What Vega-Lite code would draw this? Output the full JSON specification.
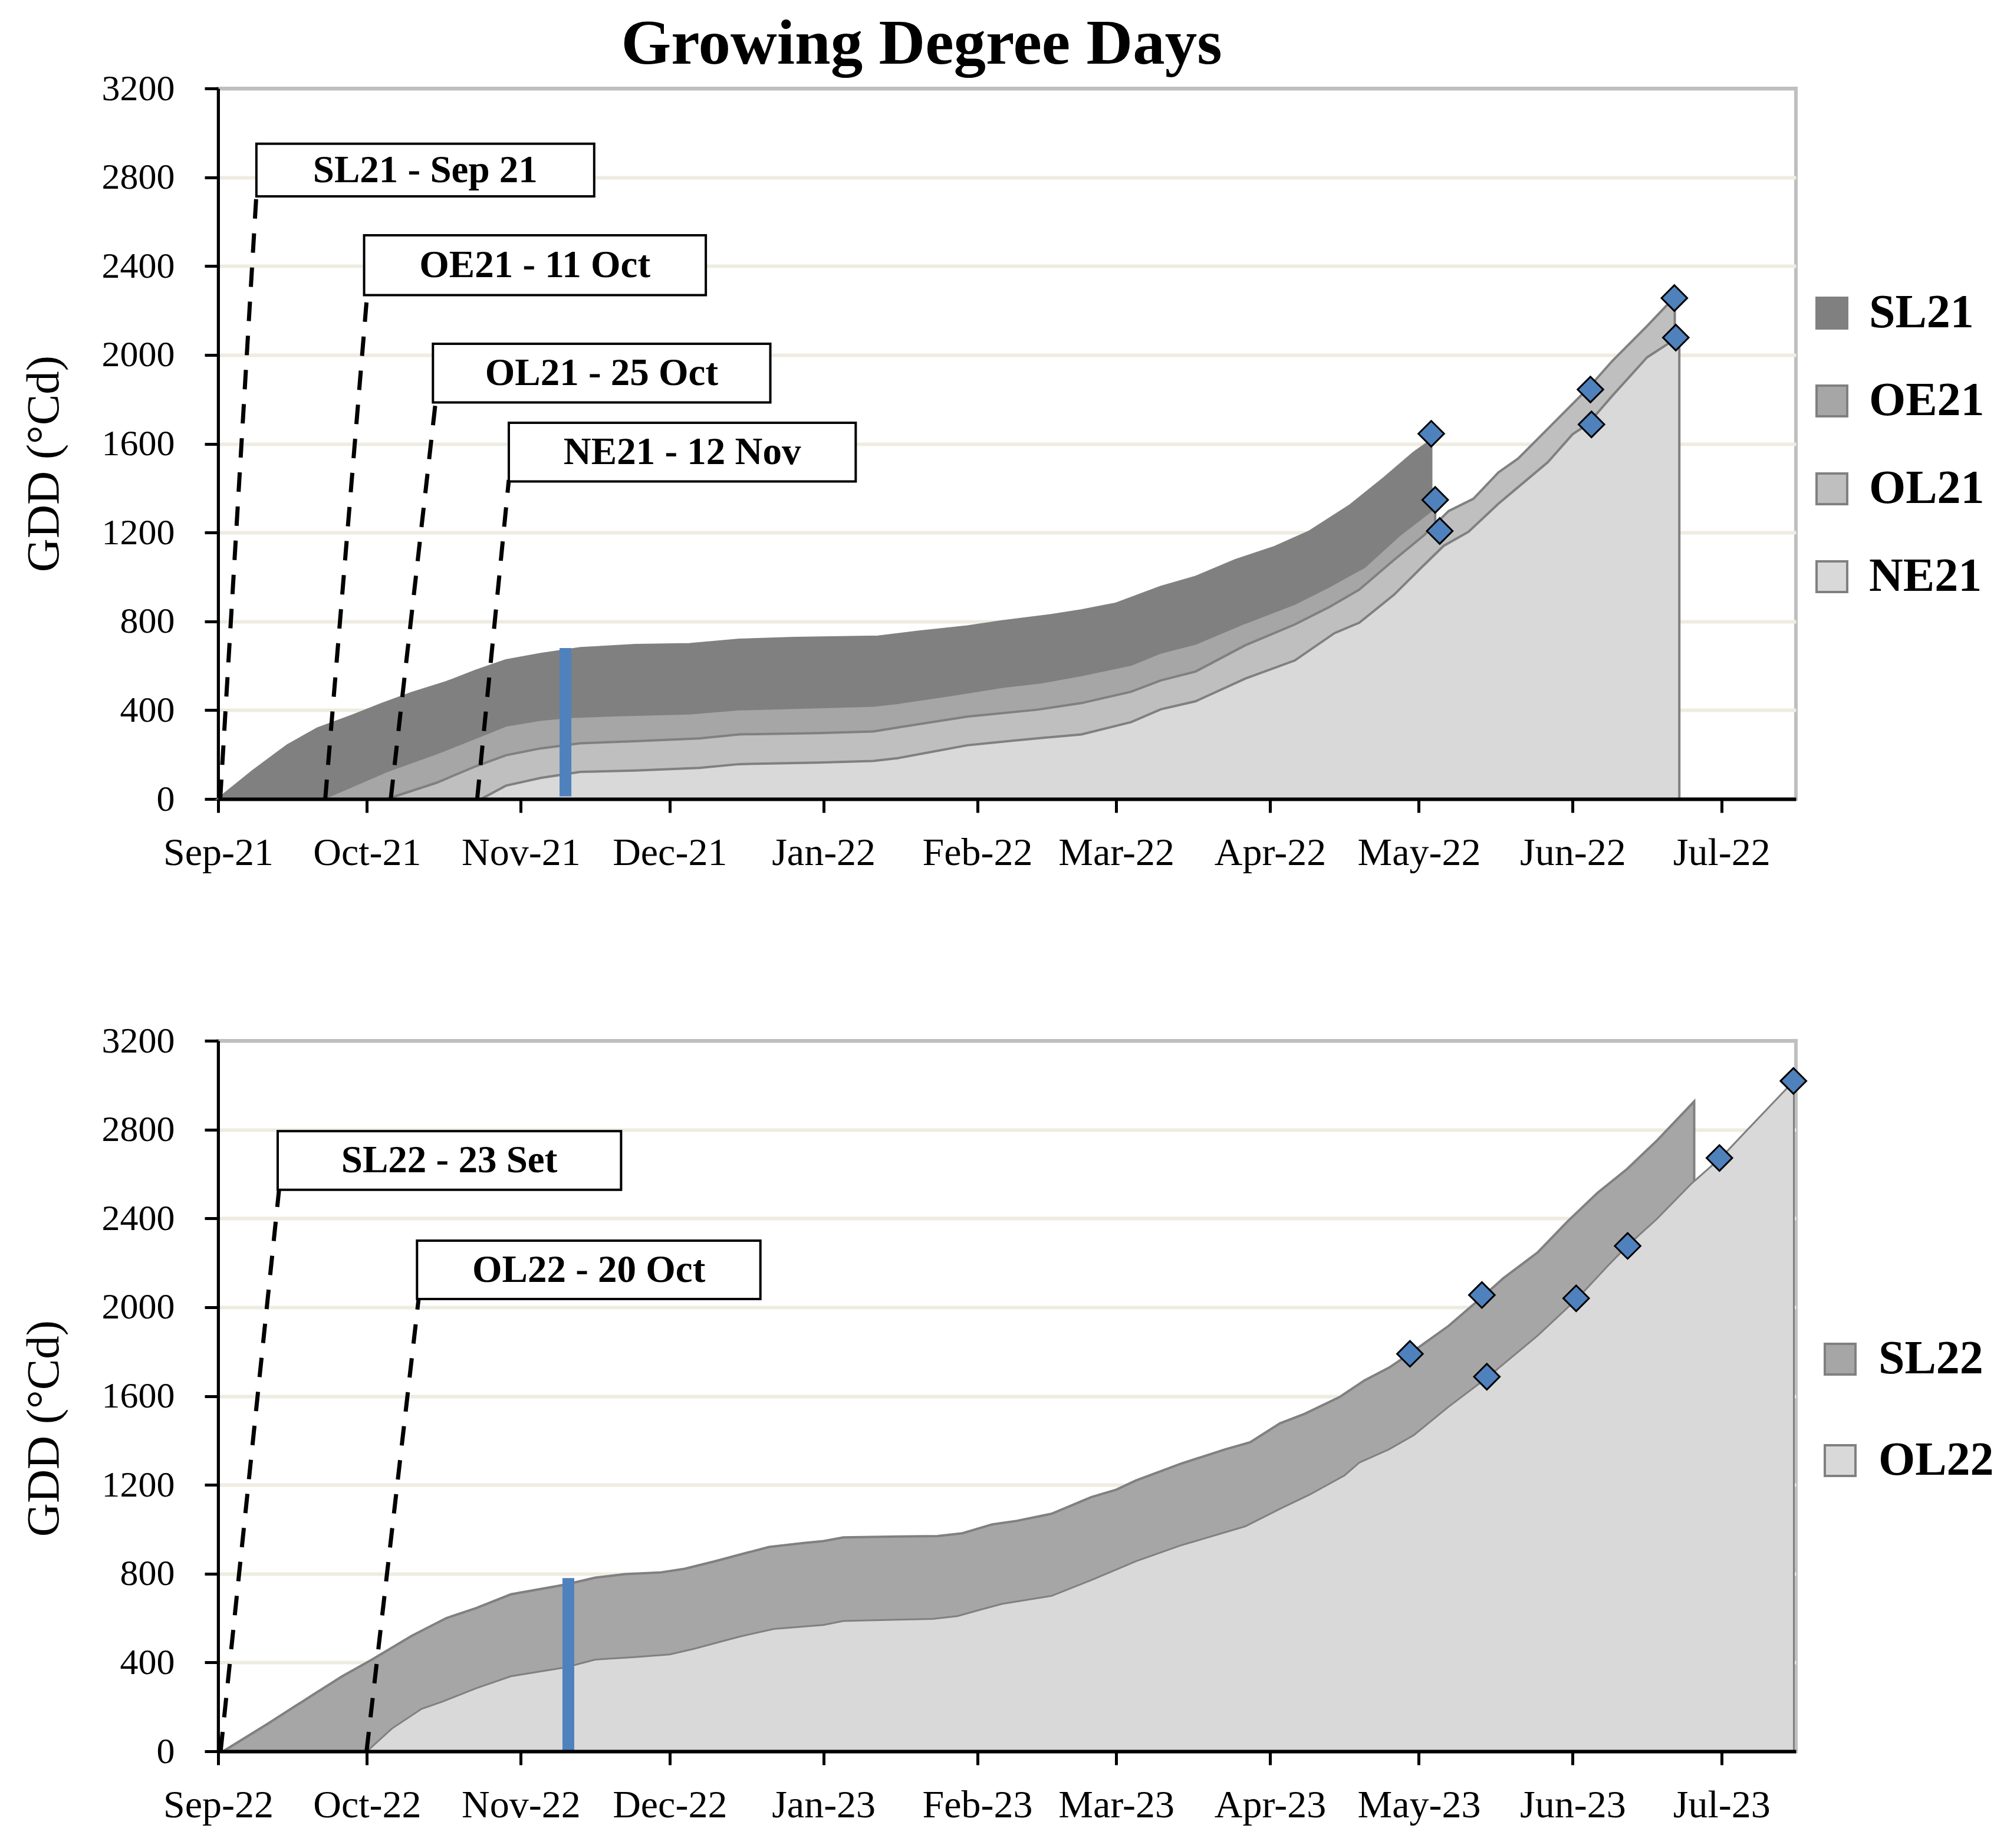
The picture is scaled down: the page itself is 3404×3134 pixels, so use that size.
{
  "$schema": "https://vega.github.io/schema/vega-lite/v6.json",
  "padding": {"left": 32, "top": 18, "right": 5, "bottom": 5},
  "background": "white",
  "config": {
    "view": {"stroke": "#BFBFBF", "strokeWidth": 6},
    "font": "Liberation Serif"
  },
  "datasets": {
    "ts": [
      {"s":"SL21","d":"2021-09-01T00:00","g":0},{"s":"SL21","d":"2021-09-08T00:00","g":126},{"s":"SL21","d":"2021-09-15T00:00","g":242},{"s":"SL21","d":"2021-09-21T00:00","g":317},{"s":"SL21","d":"2021-09-28T00:00","g":375},{"s":"SL21","d":"2021-10-04T00:00","g":428},{"s":"SL21","d":"2021-10-10T00:00","g":477},{"s":"SL21","d":"2021-10-17T00:00","g":526},{"s":"SL21","d":"2021-10-23T00:00","g":578},{"s":"SL21","d":"2021-10-29T00:00","g":624},{"s":"SL21","d":"2021-11-05T00:00","g":653},{"s":"SL21","d":"2021-11-13T00:00","g":679},{"s":"SL21","d":"2021-11-24T00:00","g":693},{"s":"SL21","d":"2021-12-05T00:00","g":697},{"s":"SL21","d":"2021-12-15T00:00","g":717},{"s":"SL21","d":"2021-12-26T00:00","g":725},{"s":"SL21","d":"2022-01-12T00:00","g":731},{"s":"SL21","d":"2022-01-20T00:00","g":753},{"s":"SL21","d":"2022-01-30T00:00","g":777},{"s":"SL21","d":"2022-02-06T00:00","g":800},{"s":"SL21","d":"2022-02-15T00:00","g":825},{"s":"SL21","d":"2022-02-22T00:00","g":849},{"s":"SL21","d":"2022-03-01T00:00","g":880},{"s":"SL21","d":"2022-03-10T00:00","g":955},{"s":"SL21","d":"2022-03-17T00:00","g":1000},{"s":"SL21","d":"2022-03-25T00:00","g":1075},{"s":"SL21","d":"2022-04-02T00:00","g":1135},{"s":"SL21","d":"2022-04-09T00:00","g":1205},{"s":"SL21","d":"2022-04-17T00:00","g":1320},{"s":"SL21","d":"2022-04-24T00:00","g":1445},{"s":"SL21","d":"2022-04-30T00:00","g":1560},{"s":"SL21","d":"2022-05-03T12:00","g":1615},
      {"s":"OE21","d":"2021-09-22T00:00","g":0},{"s":"OE21","d":"2021-10-05T00:00","g":126},{"s":"OE21","d":"2021-10-15T00:00","g":206},{"s":"OE21","d":"2021-10-24T00:00","g":286},{"s":"OE21","d":"2021-10-29T00:00","g":331},{"s":"OE21","d":"2021-11-05T00:00","g":357},{"s":"OE21","d":"2021-11-11T00:00","g":370},{"s":"OE21","d":"2021-11-20T00:00","g":377},{"s":"OE21","d":"2021-12-05T00:00","g":386},{"s":"OE21","d":"2021-12-15T00:00","g":404},{"s":"OE21","d":"2022-01-11T00:00","g":420},{"s":"OE21","d":"2022-01-16T00:00","g":433},{"s":"OE21","d":"2022-01-27T00:00","g":469},{"s":"OE21","d":"2022-02-06T00:00","g":505},{"s":"OE21","d":"2022-02-14T00:00","g":526},{"s":"OE21","d":"2022-02-22T00:00","g":558},{"s":"OE21","d":"2022-03-04T00:00","g":605},{"s":"OE21","d":"2022-03-10T00:00","g":660},{"s":"OE21","d":"2022-03-17T00:00","g":700},{"s":"OE21","d":"2022-03-27T00:00","g":794},{"s":"OE21","d":"2022-04-06T00:00","g":880},{"s":"OE21","d":"2022-04-13T00:00","g":959},{"s":"OE21","d":"2022-04-20T00:00","g":1045},{"s":"OE21","d":"2022-04-27T00:00","g":1187},{"s":"OE21","d":"2022-05-04T07:00","g":1313},
      {"s":"OL21","d":"2021-10-05T00:00","g":0},{"s":"OL21","d":"2021-10-15T00:00","g":73},{"s":"OL21","d":"2021-10-23T00:00","g":148},{"s":"OL21","d":"2021-10-29T00:00","g":197},{"s":"OL21","d":"2021-11-05T00:00","g":228},{"s":"OL21","d":"2021-11-13T00:00","g":251},{"s":"OL21","d":"2021-11-24T00:00","g":260},{"s":"OL21","d":"2021-12-07T00:00","g":273},{"s":"OL21","d":"2021-12-15T00:00","g":291},{"s":"OL21","d":"2021-12-31T00:00","g":297},{"s":"OL21","d":"2022-01-11T00:00","g":304},{"s":"OL21","d":"2022-01-16T00:00","g":322},{"s":"OL21","d":"2022-01-30T00:00","g":371},{"s":"OL21","d":"2022-02-13T00:00","g":402},{"s":"OL21","d":"2022-02-22T00:00","g":432},{"s":"OL21","d":"2022-03-04T00:00","g":483},{"s":"OL21","d":"2022-03-10T00:00","g":534},{"s":"OL21","d":"2022-03-17T00:00","g":574},{"s":"OL21","d":"2022-03-27T00:00","g":692},{"s":"OL21","d":"2022-04-06T00:00","g":786},{"s":"OL21","d":"2022-04-13T00:00","g":865},{"s":"OL21","d":"2022-04-19T00:00","g":943},{"s":"OL21","d":"2022-04-26T00:00","g":1077},{"s":"OL21","d":"2022-05-02T00:00","g":1187},{"s":"OL21","d":"2022-05-07T00:00","g":1297},{"s":"OL21","d":"2022-05-12T00:00","g":1352},{"s":"OL21","d":"2022-05-17T00:00","g":1470},{"s":"OL21","d":"2022-05-21T00:00","g":1533},{"s":"OL21","d":"2022-05-28T00:00","g":1690},{"s":"OL21","d":"2022-06-04T00:00","g":1847},{"s":"OL21","d":"2022-06-09T00:00","g":1973},{"s":"OL21","d":"2022-06-16T00:00","g":2130},{"s":"OL21","d":"2022-06-20T00:00","g":2224},{"s":"OL21","d":"2022-06-21T14:00","g":2253},
      {"s":"NE21","d":"2021-10-24T00:00","g":0},{"s":"NE21","d":"2021-10-29T00:00","g":60},{"s":"NE21","d":"2021-11-05T00:00","g":95},{"s":"NE21","d":"2021-11-13T00:00","g":122},{"s":"NE21","d":"2021-11-24T00:00","g":128},{"s":"NE21","d":"2021-12-07T00:00","g":140},{"s":"NE21","d":"2021-12-15T00:00","g":157},{"s":"NE21","d":"2021-12-31T00:00","g":164},{"s":"NE21","d":"2022-01-11T00:00","g":171},{"s":"NE21","d":"2022-01-16T00:00","g":184},{"s":"NE21","d":"2022-01-30T00:00","g":242},{"s":"NE21","d":"2022-02-08T00:00","g":262},{"s":"NE21","d":"2022-02-13T00:00","g":273},{"s":"NE21","d":"2022-02-22T00:00","g":291},{"s":"NE21","d":"2022-03-04T00:00","g":346},{"s":"NE21","d":"2022-03-10T00:00","g":404},{"s":"NE21","d":"2022-03-17T00:00","g":440},{"s":"NE21","d":"2022-03-27T00:00","g":542},{"s":"NE21","d":"2022-04-06T00:00","g":624},{"s":"NE21","d":"2022-04-14T00:00","g":747},{"s":"NE21","d":"2022-04-19T00:00","g":794},{"s":"NE21","d":"2022-04-26T00:00","g":920},{"s":"NE21","d":"2022-05-01T00:00","g":1031},{"s":"NE21","d":"2022-05-06T00:00","g":1140},{"s":"NE21","d":"2022-05-11T00:00","g":1203},{"s":"NE21","d":"2022-05-17T00:00","g":1329},{"s":"NE21","d":"2022-05-22T00:00","g":1423},{"s":"NE21","d":"2022-05-27T00:00","g":1517},{"s":"NE21","d":"2022-06-01T00:00","g":1643},{"s":"NE21","d":"2022-06-04T00:00","g":1687},{"s":"NE21","d":"2022-06-09T00:00","g":1816},{"s":"NE21","d":"2022-06-16T00:00","g":1989},{"s":"NE21","d":"2022-06-22T12:00","g":2083}
    ],
    "tm": [
      {"d":"2022-05-03T12:00","g":1645},{"d":"2022-05-04T07:00","g":1347},{"d":"2022-05-05T05:00","g":1207},{"d":"2022-06-04T14:00","g":1844},{"d":"2022-06-04T19:00","g":1687},{"d":"2022-06-21T12:00","g":2256},{"d":"2022-06-21T19:00","g":2078}
    ],
    "tb": [{"d":"2021-11-10T00:00","g":12,"g2":680}],
    "tl": [
      {"d":"2021-09-01T10:00","g":0,"d2":"2021-09-08T17:00","g2":2722},
      {"d":"2021-09-22T14:00","g":0,"d2":"2021-10-01T00:00","g2":2264},
      {"d":"2021-10-05T19:00","g":0,"d2":"2021-10-14T19:00","g2":1781},
      {"d":"2021-10-23T05:00","g":0,"d2":"2021-10-29T14:00","g2":1437}
    ],
    "tx": [
      {"d":"2021-09-08T17:00","d2":"2021-11-15T19:00","g":2714,"g2":2951},
      {"d":"2021-09-30T10:00","d2":"2021-12-08T07:00","g":2269,"g2":2539},
      {"d":"2021-10-14T07:00","d2":"2021-12-21T07:00","g":1786,"g2":2050},
      {"d":"2021-10-29T14:00","d2":"2022-01-07T12:00","g":1430,"g2":1694}
    ],
    "tt": [
      {"t":"SL21 - Sep 21","d":"2021-10-12T18:00","g":2832},
      {"t":"OE21 - 11 Oct","d":"2021-11-03T20:00","g":2404},
      {"t":"OL21 - 25 Oct","d":"2021-11-17T07:00","g":1918},
      {"t":"NE21 - 12 Nov","d":"2021-12-03T13:00","g":1562}
    ],
    "bs": [
      {"s":"SL22","d":"2022-09-02T00:00","g":0},{"s":"SL22","d":"2022-09-11T00:00","g":124},{"s":"SL22","d":"2022-09-20T00:00","g":253},{"s":"SL22","d":"2022-09-26T00:00","g":338},{"s":"SL22","d":"2022-10-02T00:00","g":413},{"s":"SL22","d":"2022-10-10T00:00","g":520},{"s":"SL22","d":"2022-10-17T00:00","g":600},{"s":"SL22","d":"2022-10-23T00:00","g":645},{"s":"SL22","d":"2022-10-30T00:00","g":707},{"s":"SL22","d":"2022-11-05T00:00","g":731},{"s":"SL22","d":"2022-11-10T00:00","g":751},{"s":"SL22","d":"2022-11-16T00:00","g":782},{"s":"SL22","d":"2022-11-22T00:00","g":798},{"s":"SL22","d":"2022-11-29T00:00","g":805},{"s":"SL22","d":"2022-12-04T00:00","g":822},{"s":"SL22","d":"2022-12-10T00:00","g":855},{"s":"SL22","d":"2022-12-15T00:00","g":885},{"s":"SL22","d":"2022-12-21T00:00","g":920},{"s":"SL22","d":"2022-12-28T00:00","g":938},{"s":"SL22","d":"2023-01-01T00:00","g":947},{"s":"SL22","d":"2023-01-05T00:00","g":963},{"s":"SL22","d":"2023-01-16T00:00","g":967},{"s":"SL22","d":"2023-01-24T00:00","g":969},{"s":"SL22","d":"2023-01-29T00:00","g":982},{"s":"SL22","d":"2023-02-04T00:00","g":1022},{"s":"SL22","d":"2023-02-09T00:00","g":1038},{"s":"SL22","d":"2023-02-16T00:00","g":1070},{"s":"SL22","d":"2023-02-24T00:00","g":1145},{"s":"SL22","d":"2023-03-01T00:00","g":1178},{"s":"SL22","d":"2023-03-05T00:00","g":1220},{"s":"SL22","d":"2023-03-14T00:00","g":1295},{"s":"SL22","d":"2023-03-23T00:00","g":1360},{"s":"SL22","d":"2023-03-28T00:00","g":1392},{"s":"SL22","d":"2023-04-03T00:00","g":1477},{"s":"SL22","d":"2023-04-08T00:00","g":1520},{"s":"SL22","d":"2023-04-15T00:00","g":1595},{"s":"SL22","d":"2023-04-20T00:00","g":1670},{"s":"SL22","d":"2023-04-25T00:00","g":1728},{"s":"SL22","d":"2023-04-29T00:00","g":1788},{"s":"SL22","d":"2023-05-07T00:00","g":1916},{"s":"SL22","d":"2023-05-14T00:00","g":2051},{"s":"SL22","d":"2023-05-18T00:00","g":2130},{"s":"SL22","d":"2023-05-25T00:00","g":2248},{"s":"SL22","d":"2023-05-31T00:00","g":2387},{"s":"SL22","d":"2023-06-06T00:00","g":2515},{"s":"SL22","d":"2023-06-12T00:00","g":2623},{"s":"SL22","d":"2023-06-18T00:00","g":2751},{"s":"SL22","d":"2023-06-25T12:00","g":2927},
      {"s":"OL22","d":"2022-10-01T00:00","g":0},{"s":"OL22","d":"2022-10-06T00:00","g":102},{"s":"OL22","d":"2022-10-12T00:00","g":191},{"s":"OL22","d":"2022-10-16T00:00","g":222},{"s":"OL22","d":"2022-10-23T00:00","g":284},{"s":"OL22","d":"2022-10-30T00:00","g":338},{"s":"OL22","d":"2022-11-05T00:00","g":360},{"s":"OL22","d":"2022-11-10T00:00","g":378},{"s":"OL22","d":"2022-11-16T00:00","g":413},{"s":"OL22","d":"2022-11-24T00:00","g":424},{"s":"OL22","d":"2022-12-01T00:00","g":436},{"s":"OL22","d":"2022-12-06T00:00","g":462},{"s":"OL22","d":"2022-12-15T00:00","g":516},{"s":"OL22","d":"2022-12-22T00:00","g":551},{"s":"OL22","d":"2023-01-01T00:00","g":569},{"s":"OL22","d":"2023-01-05T00:00","g":587},{"s":"OL22","d":"2023-01-16T00:00","g":593},{"s":"OL22","d":"2023-01-23T00:00","g":596},{"s":"OL22","d":"2023-01-28T00:00","g":609},{"s":"OL22","d":"2023-02-02T00:00","g":640},{"s":"OL22","d":"2023-02-06T00:00","g":664},{"s":"OL22","d":"2023-02-16T00:00","g":700},{"s":"OL22","d":"2023-02-24T00:00","g":771},{"s":"OL22","d":"2023-03-05T00:00","g":856},{"s":"OL22","d":"2023-03-14T00:00","g":927},{"s":"OL22","d":"2023-03-27T00:00","g":1013},{"s":"OL22","d":"2023-04-03T00:00","g":1092},{"s":"OL22","d":"2023-04-09T00:00","g":1156},{"s":"OL22","d":"2023-04-16T00:00","g":1242},{"s":"OL22","d":"2023-04-19T00:00","g":1300},{"s":"OL22","d":"2023-04-25T00:00","g":1360},{"s":"OL22","d":"2023-04-30T00:00","g":1424},{"s":"OL22","d":"2023-05-07T00:00","g":1552},{"s":"OL22","d":"2023-05-15T00:00","g":1687},{"s":"OL22","d":"2023-05-25T00:00","g":1873},{"s":"OL22","d":"2023-06-02T00:00","g":2040},{"s":"OL22","d":"2023-06-08T00:00","g":2184},{"s":"OL22","d":"2023-06-12T00:00","g":2276},{"s":"OL22","d":"2023-06-18T00:00","g":2398},{"s":"OL22","d":"2023-06-25T00:00","g":2558},{"s":"OL22","d":"2023-07-01T00:00","g":2676},{"s":"OL22","d":"2023-07-06T00:00","g":2794},{"s":"OL22","d":"2023-07-15T14:00","g":3019}
    ],
    "bm": [
      {"d":"2023-04-29T05:00","g":1790},{"d":"2023-05-13T17:00","g":2055},{"d":"2023-05-14T17:00","g":1687},{"d":"2023-06-01T17:00","g":2040},{"d":"2023-06-12T02:00","g":2276},{"d":"2023-06-30T14:00","g":2672},{"d":"2023-07-15T12:00","g":3019}
    ],
    "bb": [{"d":"2022-11-10T14:00","g":0,"g2":780}],
    "bl": [
      {"d":"2022-09-01T12:00","g":0,"d2":"2022-09-13T07:00","g2":2533},
      {"d":"2022-09-30T22:00","g":0,"d2":"2022-10-11T10:00","g2":2040}
    ],
    "bx": [
      {"d":"2022-09-13T00:00","d2":"2022-11-21T05:00","g":2529,"g2":2793},
      {"d":"2022-10-11T02:00","d2":"2022-12-19T07:00","g":2037,"g2":2300}
    ],
    "bt": [
      {"t":"SL22 - 23 Set","d":"2022-10-17T14:00","g":2661},
      {"t":"OL22 - 20 Oct","d":"2022-11-14T17:00","g":2168}
    ]
  },
  "resolve": {"scale": {"x": "independent", "y": "independent", "color": "independent"}, "legend": {"color": "independent"}},
  "spacing": 249,
  "vconcat": [
    {
      "width": 2676,
      "height": 1205,
      "title": {"text": "Growing Degree Days", "font": "Liberation Serif", "fontSize": 109, "fontWeight": "bold", "color": "black", "anchor": "middle", "frame": "group", "dx": -145, "offset": -12},
      "layer": [
        {
          "data": {"name": "ts"},
          "transform": [{"filter": "datum.s === 'SL21'"}],
          "mark": {"type": "area", "stroke": "#808080", "strokeWidth": 4, "opacity": 1},
          "encoding": {
            "x": {"field": "d", "type": "temporal", "scale": {"domain": [{"year": 2021, "month": 9, "date": 1}, {"year": 2022, "month": 7, "date": 16}], "nice": false},
              "axis": {"title": null, "format": "%b-%y", "tickCount": {"interval": "month", "step": 1}, "labelFont": "Liberation Serif", "labelFontSize": 66, "labelColor": "black", "labelPadding": 36, "labelLimit": 600, "tickSize": 23, "tickWidth": 5, "tickColor": "black", "domainColor": "black", "domainWidth": 6, "grid": false, "labelFlush": false, "labelOverlap": false, "zindex": 1}},
            "y": {"field": "g", "type": "quantitative", "stack": null, "scale": {"domain": [0, 3200], "nice": false},
              "axis": {"values": [0, 400, 800, 1200, 1600, 2000, 2400, 2800, 3200], "format": "d", "title": "GDD (°Cd)", "titleFont": "Liberation Serif", "titleFontSize": 79, "titleFontWeight": "normal", "titleColor": "black", "titlePadding": 57, "titleY": 636, "labelFont": "Liberation Serif", "labelFontSize": 62, "labelColor": "black", "labelPadding": 51, "tickSize": 23, "tickWidth": 5, "tickColor": "black", "domainColor": "black", "domainWidth": 5, "grid": true, "gridColor": {"condition": {"test": "datum.value === 3200", "value": "#BFBFBF"}, "value": "#EEECE1"}, "gridWidth": 6, "zindex": 0}},
            "color": {"field": "s", "type": "nominal", "scale": {"domain": ["SL21", "OE21", "OL21", "NE21"], "range": ["#808080", "#A6A6A6", "#BFBFBF", "#D9D9D9"]},
              "legend": {"orient": "none", "legendX": 2697, "legendY": 341, "title": null, "symbolType": "square", "symbolSize": 2700, "symbolStrokeColor": "#808080", "symbolStrokeWidth": 4, "symbolOpacity": 1, "labelFont": "Liberation Serif", "labelFontSize": 80, "labelFontWeight": "bold", "labelColor": "black", "labelLimit": 600, "rowPadding": 69, "labelOffset": 23, "padding": 0}}
          }
        },
        {
          "data": {"name": "ts"},
          "transform": [{"filter": "datum.s === 'OE21'"}],
          "mark": {"type": "area", "stroke": "#808080", "strokeWidth": 4, "opacity": 1},
          "encoding": {
            "x": {"field": "d", "type": "temporal", "scale": {"domain": [{"year": 2021, "month": 9, "date": 1}, {"year": 2022, "month": 7, "date": 16}], "nice": false}},
            "y": {"field": "g", "type": "quantitative", "stack": null, "scale": {"domain": [0, 3200], "nice": false}},
            "color": {"field": "s", "type": "nominal", "scale": {"domain": ["SL21", "OE21", "OL21", "NE21"], "range": ["#808080", "#A6A6A6", "#BFBFBF", "#D9D9D9"]}}
          }
        },
        {
          "data": {"name": "ts"},
          "transform": [{"filter": "datum.s === 'OL21'"}],
          "mark": {"type": "area", "stroke": "#808080", "strokeWidth": 4, "opacity": 1},
          "encoding": {
            "x": {"field": "d", "type": "temporal", "scale": {"domain": [{"year": 2021, "month": 9, "date": 1}, {"year": 2022, "month": 7, "date": 16}], "nice": false}},
            "y": {"field": "g", "type": "quantitative", "stack": null, "scale": {"domain": [0, 3200], "nice": false}},
            "color": {"field": "s", "type": "nominal", "scale": {"domain": ["SL21", "OE21", "OL21", "NE21"], "range": ["#808080", "#A6A6A6", "#BFBFBF", "#D9D9D9"]}}
          }
        },
        {
          "data": {"name": "ts"},
          "transform": [{"filter": "datum.s === 'NE21'"}],
          "mark": {"type": "area", "stroke": "#808080", "strokeWidth": 4, "opacity": 1},
          "encoding": {
            "x": {"field": "d", "type": "temporal", "scale": {"domain": [{"year": 2021, "month": 9, "date": 1}, {"year": 2022, "month": 7, "date": 16}], "nice": false}},
            "y": {"field": "g", "type": "quantitative", "stack": null, "scale": {"domain": [0, 3200], "nice": false}},
            "color": {"field": "s", "type": "nominal", "scale": {"domain": ["SL21", "OE21", "OL21", "NE21"], "range": ["#808080", "#A6A6A6", "#BFBFBF", "#D9D9D9"]}}
          }
        },
        {
          "data": {"name": "tb"},
          "mark": {"type": "rule", "color": "#4F81BD", "strokeWidth": 20, "strokeCap": "butt"},
          "encoding": {
            "x": {"field": "d", "type": "temporal", "scale": {"domain": [{"year": 2021, "month": 9, "date": 1}, {"year": 2022, "month": 7, "date": 16}], "nice": false}},
            "y": {"field": "g", "type": "quantitative", "scale": {"domain": [0, 3200], "nice": false}},
            "y2": {"field": "g2"}
          }
        },
        {
          "data": {"name": "tl"},
          "mark": {"type": "rule", "color": "black", "strokeWidth": 7, "strokeDash": [33, 25], "strokeCap": "butt"},
          "encoding": {
            "x": {"field": "d", "type": "temporal", "scale": {"domain": [{"year": 2021, "month": 9, "date": 1}, {"year": 2022, "month": 7, "date": 16}], "nice": false}},
            "x2": {"field": "d2"},
            "y": {"field": "g", "type": "quantitative", "scale": {"domain": [0, 3200], "nice": false}},
            "y2": {"field": "g2"}
          }
        },
        {
          "data": {"name": "tx"},
          "mark": {"type": "rect", "fill": "white", "stroke": "black", "strokeWidth": 4},
          "encoding": {
            "x": {"field": "d", "type": "temporal", "scale": {"domain": [{"year": 2021, "month": 9, "date": 1}, {"year": 2022, "month": 7, "date": 16}], "nice": false}},
            "x2": {"field": "d2"},
            "y": {"field": "g", "type": "quantitative", "scale": {"domain": [0, 3200], "nice": false}},
            "y2": {"field": "g2"}
          }
        },
        {
          "data": {"name": "tt"},
          "mark": {"type": "text", "font": "Liberation Serif", "fontSize": 65, "fontWeight": "bold", "color": "black", "align": "center", "baseline": "middle"},
          "encoding": {
            "x": {"field": "d", "type": "temporal", "scale": {"domain": [{"year": 2021, "month": 9, "date": 1}, {"year": 2022, "month": 7, "date": 16}], "nice": false}},
            "y": {"field": "g", "type": "quantitative", "scale": {"domain": [0, 3200], "nice": false}},
            "text": {"field": "t"}
          }
        },
        {
          "data": {"name": "tm"},
          "mark": {"type": "point", "shape": "diamond", "filled": true, "fill": "#4F81BD", "stroke": "black", "strokeWidth": 3, "size": 1900, "opacity": 1},
          "encoding": {
            "x": {"field": "d", "type": "temporal", "scale": {"domain": [{"year": 2021, "month": 9, "date": 1}, {"year": 2022, "month": 7, "date": 16}], "nice": false}},
            "y": {"field": "g", "type": "quantitative", "scale": {"domain": [0, 3200], "nice": false}}
          }
        }
      ]
    },
    {
      "width": 2676,
      "height": 1205,
      "layer": [
        {
          "data": {"name": "bs"},
          "transform": [{"filter": "datum.s === 'SL22'"}],
          "mark": {"type": "area", "stroke": "#808080", "strokeWidth": 4, "opacity": 1},
          "encoding": {
            "x": {"field": "d", "type": "temporal", "scale": {"domain": [{"year": 2022, "month": 9, "date": 1}, {"year": 2023, "month": 7, "date": 16}], "nice": false},
              "axis": {"title": null, "format": "%b-%y", "tickCount": {"interval": "month", "step": 1}, "labelFont": "Liberation Serif", "labelFontSize": 66, "labelColor": "black", "labelPadding": 36, "labelLimit": 600, "tickSize": 23, "tickWidth": 5, "tickColor": "black", "domainColor": "black", "domainWidth": 6, "grid": false, "labelFlush": false, "labelOverlap": false, "zindex": 1}},
            "y": {"field": "g", "type": "quantitative", "stack": null, "scale": {"domain": [0, 3200], "nice": false},
              "axis": {"values": [0, 400, 800, 1200, 1600, 2000, 2400, 2800, 3200], "format": "d", "title": "GDD (°Cd)", "titleFont": "Liberation Serif", "titleFontSize": 79, "titleFontWeight": "normal", "titleColor": "black", "titlePadding": 57, "titleY": 657, "labelFont": "Liberation Serif", "labelFontSize": 62, "labelColor": "black", "labelPadding": 51, "tickSize": 23, "tickWidth": 5, "tickColor": "black", "domainColor": "black", "domainWidth": 5, "grid": true, "gridColor": {"condition": {"test": "datum.value === 3200", "value": "#BFBFBF"}, "value": "#EEECE1"}, "gridWidth": 6, "zindex": 0}},
            "color": {"field": "s", "type": "nominal", "scale": {"domain": ["SL22", "OL22"], "range": ["#A6A6A6", "#D9D9D9"]},
              "legend": {"orient": "none", "legendX": 2711, "legendY": 500, "title": null, "symbolType": "square", "symbolSize": 2700, "symbolStrokeColor": "#808080", "symbolStrokeWidth": 4, "symbolOpacity": 1, "labelFont": "Liberation Serif", "labelFontSize": 80, "labelFontWeight": "bold", "labelColor": "black", "labelLimit": 600, "rowPadding": 92, "labelOffset": 25, "padding": 0}}
          }
        },
        {
          "data": {"name": "bs"},
          "transform": [{"filter": "datum.s === 'OL22'"}],
          "mark": {"type": "area", "stroke": "#808080", "strokeWidth": 3, "opacity": 1},
          "encoding": {
            "x": {"field": "d", "type": "temporal", "scale": {"domain": [{"year": 2022, "month": 9, "date": 1}, {"year": 2023, "month": 7, "date": 16}], "nice": false}},
            "y": {"field": "g", "type": "quantitative", "stack": null, "scale": {"domain": [0, 3200], "nice": false}},
            "color": {"field": "s", "type": "nominal", "scale": {"domain": ["SL22", "OL22"], "range": ["#A6A6A6", "#D9D9D9"]}}
          }
        },
        {
          "data": {"name": "bb"},
          "mark": {"type": "rule", "color": "#4F81BD", "strokeWidth": 20, "strokeCap": "butt"},
          "encoding": {
            "x": {"field": "d", "type": "temporal", "scale": {"domain": [{"year": 2022, "month": 9, "date": 1}, {"year": 2023, "month": 7, "date": 16}], "nice": false}},
            "y": {"field": "g", "type": "quantitative", "scale": {"domain": [0, 3200], "nice": false}},
            "y2": {"field": "g2"}
          }
        },
        {
          "data": {"name": "bl"},
          "mark": {"type": "rule", "color": "black", "strokeWidth": 7, "strokeDash": [33, 25], "strokeCap": "butt"},
          "encoding": {
            "x": {"field": "d", "type": "temporal", "scale": {"domain": [{"year": 2022, "month": 9, "date": 1}, {"year": 2023, "month": 7, "date": 16}], "nice": false}},
            "x2": {"field": "d2"},
            "y": {"field": "g", "type": "quantitative", "scale": {"domain": [0, 3200], "nice": false}},
            "y2": {"field": "g2"}
          }
        },
        {
          "data": {"name": "bx"},
          "mark": {"type": "rect", "fill": "white", "stroke": "black", "strokeWidth": 4},
          "encoding": {
            "x": {"field": "d", "type": "temporal", "scale": {"domain": [{"year": 2022, "month": 9, "date": 1}, {"year": 2023, "month": 7, "date": 16}], "nice": false}},
            "x2": {"field": "d2"},
            "y": {"field": "g", "type": "quantitative", "scale": {"domain": [0, 3200], "nice": false}},
            "y2": {"field": "g2"}
          }
        },
        {
          "data": {"name": "bt"},
          "mark": {"type": "text", "font": "Liberation Serif", "fontSize": 65, "fontWeight": "bold", "color": "black", "align": "center", "baseline": "middle"},
          "encoding": {
            "x": {"field": "d", "type": "temporal", "scale": {"domain": [{"year": 2022, "month": 9, "date": 1}, {"year": 2023, "month": 7, "date": 16}], "nice": false}},
            "y": {"field": "g", "type": "quantitative", "scale": {"domain": [0, 3200], "nice": false}},
            "text": {"field": "t"}
          }
        },
        {
          "data": {"name": "bm"},
          "mark": {"type": "point", "shape": "diamond", "filled": true, "fill": "#4F81BD", "stroke": "black", "strokeWidth": 3, "size": 1900, "opacity": 1},
          "encoding": {
            "x": {"field": "d", "type": "temporal", "scale": {"domain": [{"year": 2022, "month": 9, "date": 1}, {"year": 2023, "month": 7, "date": 16}], "nice": false}},
            "y": {"field": "g", "type": "quantitative", "scale": {"domain": [0, 3200], "nice": false}}
          }
        }
      ]
    }
  ]
}
